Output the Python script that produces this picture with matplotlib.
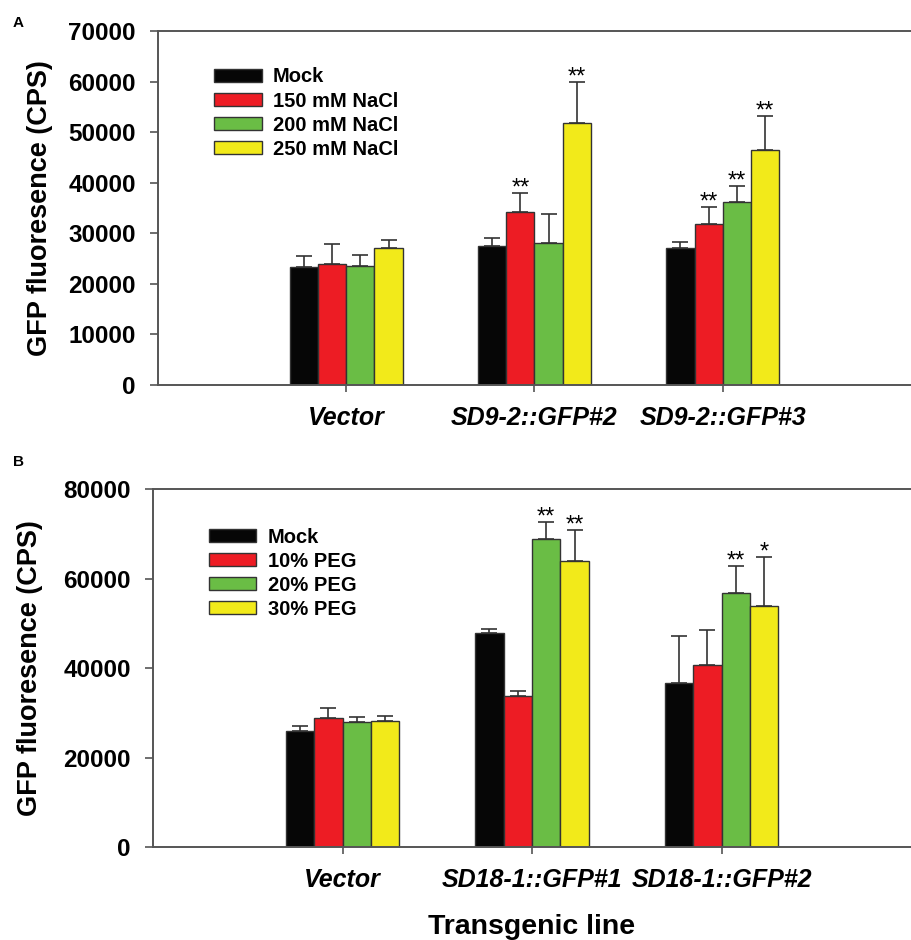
import matplotlib
matplotlib.use("Agg")
import matplotlib.pyplot as plt
import numpy as np

plt.rcParams["font.family"] = ["Liberation Sans", "DejaVu Sans"]
plt.rcParams["font.weight"] = "bold"

# Panel A: NaCl treatment
lines_a = ["Vector", "SD9-2::GFP#2", "SD9-2::GFP#3"]
treat_a = ["Mock", "150 mM NaCl", "200 mM NaCl", "250 mM NaCl"]
mean_a = [
    [23300, 23900, 23600, 27100],
    [27400, 34300, 28000, 51800],
    [27000, 31900, 36200, 46500],
]
err_a = [
    [2300, 3900, 2200, 1600],
    [1600, 3600, 5900, 8100],
    [1200, 3300, 3100, 6600],
]
stars_a = [
    ["", "", "", ""],
    ["", "**", "", "**"],
    ["", "**", "**", "**"],
]

# Panel B: PEG treatment
lines_b = ["Vector", "SD18-1::GFP#1", "SD18-1::GFP#2"]
treat_b = ["Mock", "10% PEG", "20% PEG", "30% PEG"]
mean_b = [
    [25900, 28900, 27900, 28300],
    [47900, 33700, 69000, 63900],
    [36800, 40800, 56800, 53900],
]
err_b = [
    [1100, 2200, 1200, 1100],
    [800, 1300, 3600, 6900],
    [10500, 7800, 6100, 11000],
]
stars_b = [
    ["", "", "", ""],
    ["", "", "**", "**"],
    ["", "", "**", "*"],
]

colors = ["#060606", "#ed1c24", "#6abd45", "#f2ea1a"]
edge = "#333333"
axis_col = "#555555"


def draw_panel(ax, lines, treats, means, errs, stars, ymax, step, leg_anchor):
    means = np.asarray(means)
    errs = np.asarray(errs)
    x = np.arange(1, len(lines) + 1)
    w = 0.15
    for i, (name, col) in enumerate(zip(treats, colors)):
        pos = x + (i - 1.5) * w
        ax.bar(pos, means[:, i], width=w, color=col, edgecolor=edge, linewidth=1.0,
               label=name, zorder=2)
        ax.errorbar(pos, means[:, i], yerr=[np.zeros(len(x)), errs[:, i]], fmt="none",
                    ecolor="#333333", elinewidth=1.2, capsize=5.5, capthick=1.2, zorder=1)
        for j in range(len(x)):
            if stars[j][i]:
                ax.annotate(stars[j][i], (pos[j], means[j, i] + errs[j, i]),
                            xytext=(0, -4.5), textcoords="offset points",
                            ha="center", va="bottom", fontsize=17, fontweight="normal")
    ax.set_xlim(0, 4)
    ax.set_ylim(0, ymax)
    ax.set_yticks(np.arange(0, ymax + 1, step))
    ax.set_xticks(x)
    ax.set_xticklabels(lines, fontstyle="italic", fontweight="bold", fontsize=18)
    ax.tick_params(axis="y", labelsize=17.5, length=6, width=1.2, pad=10, color=axis_col)
    ax.tick_params(axis="x", length=5, width=1.2, pad=10, color=axis_col)
    for lab in ax.get_yticklabels():
        lab.set_fontweight("bold")
    ax.spines["right"].set_visible(False)
    for s in ["left", "top", "bottom"]:
        ax.spines[s].set_color(axis_col)
        ax.spines[s].set_linewidth(1.4)
    ax.set_ylabel("GFP fluoresence (CPS)", fontsize=19.5, fontweight="bold")
    leg = ax.legend(loc="upper left", bbox_to_anchor=leg_anchor, frameon=False,
                    fontsize=14.5, handlelength=2.35, handleheight=0.65,
                    handletextpad=0.55, labelspacing=0.25, borderpad=0, borderaxespad=0)
    for t in leg.get_texts():
        t.set_fontweight("bold")


fig = plt.figure(figsize=(9.11, 9.40), dpi=100)
ax_a = fig.add_axes([0.1734, 0.5904, 0.8266, 0.3766])
ax_b = fig.add_axes([0.168, 0.0989, 0.832, 0.3805])

draw_panel(ax_a, lines_a, treat_a, mean_a, err_a, stars_a, 70000, 10000, (0.075, 0.897))
draw_panel(ax_b, lines_b, treat_b, mean_b, err_b, stars_b, 80000, 20000, (0.074, 0.893))
ax_a.yaxis.set_label_coords(-0.139, 0.5)
ax_b.yaxis.set_label_coords(-0.145, 0.5)
ax_b.set_xlabel("Transgenic line", fontsize=20.5, fontweight="bold", labelpad=16)

fig.text(0.02, 0.976, "A", fontsize=11, fontweight="bold", va="center", ha="center")
fig.text(0.02, 0.508, "B", fontsize=11, fontweight="bold", va="center", ha="center")

fig.savefig("out.png", dpi=100)
